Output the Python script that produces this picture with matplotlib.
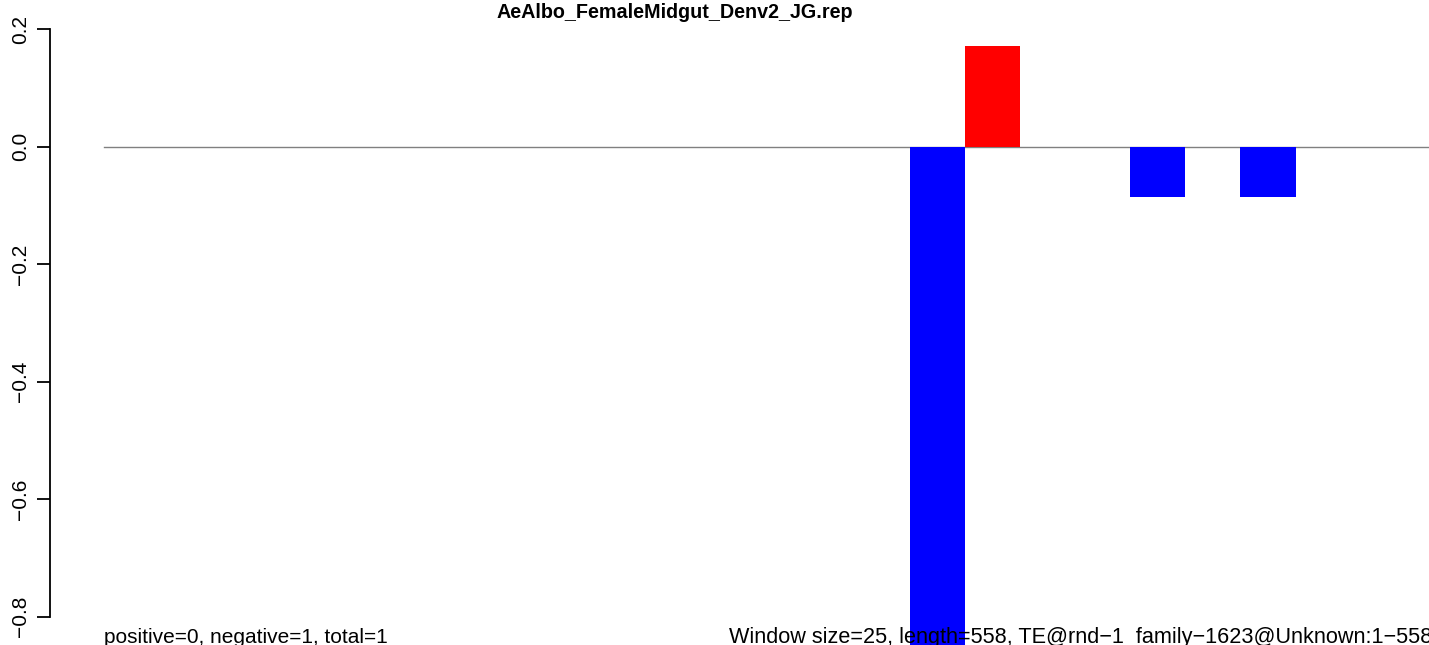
import matplotlib
matplotlib.use("Agg")
import matplotlib.pyplot as plt

plt.rcParams['font.family'] = ['Liberation Sans', 'DejaVu Sans']

title = "AeAlbo_FemaleMidgut_Denv2_JG.rep"
window_index = [14, 15, 18, 20]
values = [-1.0, 0.171, -0.086, -0.086]
colors = ["#0000FF", "#FF0000", "#0000FF", "#0000FF"]
yticks = [-0.8, -0.6, -0.4, -0.2, 0.0, 0.2]
ytick_labels = ["\u22120.8", "\u22120.6", "\u22120.4", "\u22120.2", "0.0", "0.2"]
left_note = "positive=0, negative=1, total=1"
right_note = "Window size=25, length=558, TE@rnd\u22121_family\u22121623@Unknown:1\u2212558"

W, H = 1429, 645
fig = plt.figure(figsize=(W / 100, H / 100), dpi=100)
ax = fig.add_axes([50 / W, 0, 1 - 50 / W, 1])

x0_px, w_px = 137.5, 55.15
ax.set_xlim((50 - x0_px) / w_px, (W - x0_px) / w_px)
ax.set_ylim(-(H - 146.7) / 587.5, 146.7 / 587.5)

ax.bar(window_index, values, width=1.0, align='edge', color=colors, zorder=2)
ax.plot([(104 - x0_px) / w_px, (W - x0_px) / w_px], [0, 0], color="#808080", lw=1.0, zorder=1)

for s in ['top', 'right', 'bottom']:
    ax.spines[s].set_visible(False)
ax.spines['left'].set_bounds(-0.8, 0.2)
ax.spines['left'].set_linewidth(1.3)
ax.set_xticks([])
ax.set_yticks(yticks)
ax.set_yticklabels(ytick_labels, rotation=90, va='center', fontsize=15)
ax.tick_params(axis='y', length=9.5, width=1.3, pad=5)

fig.text(675 / W, 1 - 13 / H, title, ha='center', va='center', fontsize=14.2, fontweight='bold')
fig.text(104 / W, 1 - 643 / H, left_note, ha='left', va='baseline', fontsize=15, zorder=5)
fig.text(729 / W, 1 - 643 / H, right_note, ha='left', va='baseline', fontsize=15.6, zorder=5)

fig.savefig("out.png", dpi=100)
